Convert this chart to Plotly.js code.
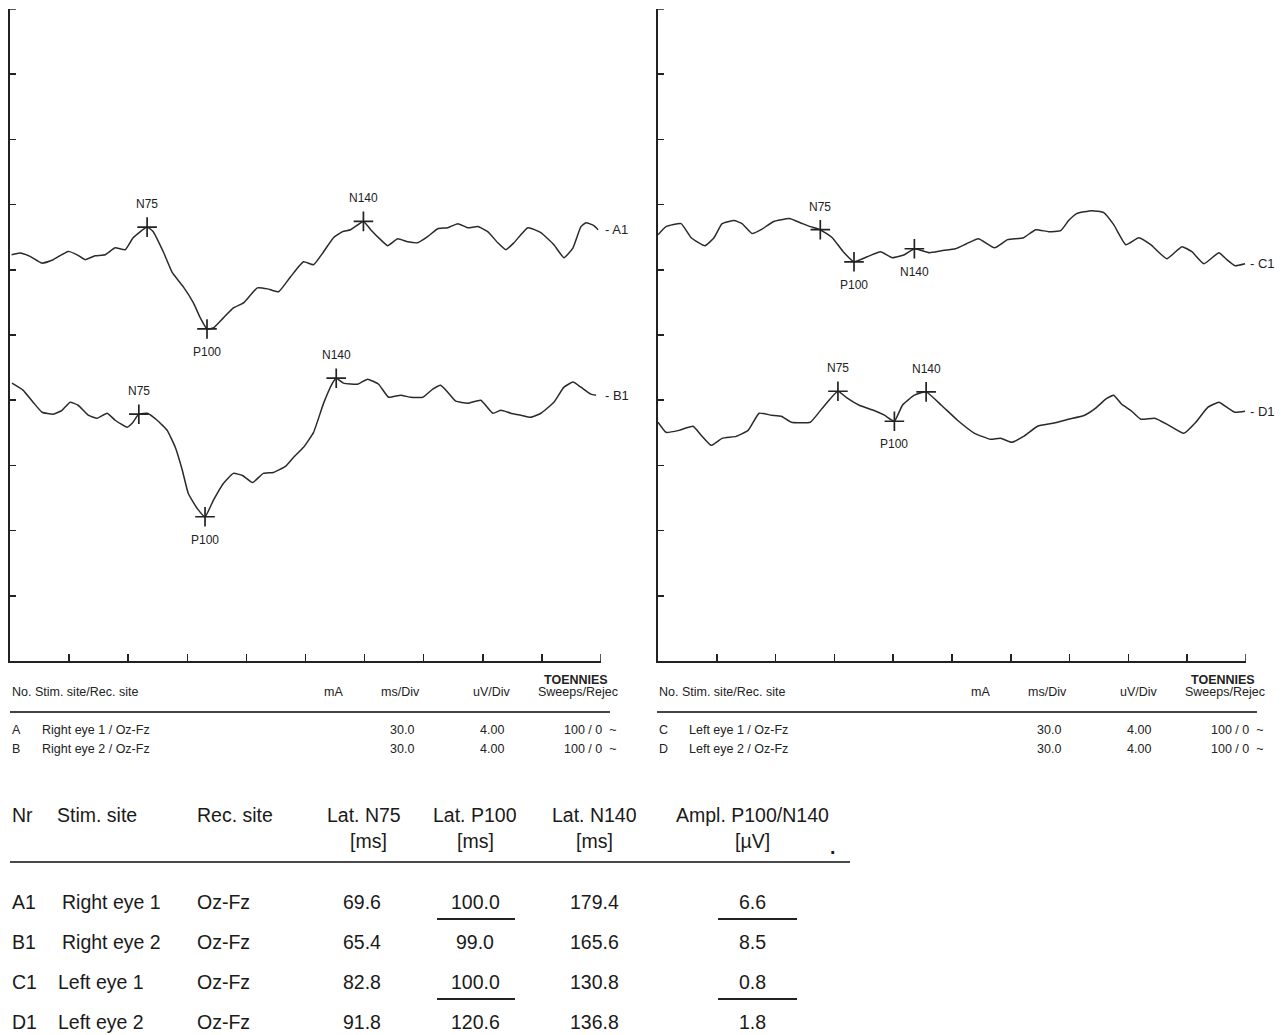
<!DOCTYPE html>
<html>
<head>
<meta charset="utf-8">
<script src="https://cdn.plot.ly/plotly-3.0.1.min.js"></script>
<style>
html,body{margin:0;padding:0;background:#fff;}
#chart{width:1287px;height:1035px;}
</style>
</head>
<body>
<div id="chart"></div>
<script>
// ---------------- DATA ----------------
// Time in ms (30 ms/Div, 10 divisions), amplitude in µV on the display scale (4 µV/Div, 10 divisions)
const tA1 = [0.8,5.1,10.2,16.1,21.9,29.5,34.1,38.1,43.2,48.3,53.4,58.5,62.5,69.6,72.7,77.8,82.4,88.0,93.1,96.6,100.0,103.2,108.3,113.4,118.5,125.6,130.7,136.3,142.4,149.0,154.1,159.2,164.2,168.8,172.9,179.4,183.1,188.1,191.7,196.8,201.9,206.9,212.0,217.1,222.2,227.3,232.4,237.5,242.5,247.6,251.7,255.8,262.9,269.5,276.1,281.2,285.8,289.8,292.4,296.4,298.5];
const vA1 = [24.92,25.03,24.82,24.41,24.62,25.13,24.92,24.62,24.86,24.92,25.35,25.23,25.97,26.62,26.34,25.11,23.82,22.95,21.97,21.05,20.37,20.43,21.05,21.66,21.97,22.89,22.83,22.65,23.57,24.49,24.31,25.11,25.97,26.34,26.46,26.97,26.46,25.85,25.48,25.91,25.72,25.66,26.03,26.52,26.58,26.83,26.58,26.65,26.34,25.66,25.23,25.66,26.58,26.28,25.54,24.74,25.35,26.65,26.89,26.71,26.46];

const tB1 = [1.0,6.6,11.7,16.3,21.9,26.4,30.5,34.6,39.7,44.2,49.3,53.4,59.5,62.0,65.4,69.7,74.7,79.8,83.9,87.5,90.5,95.1,99.0,103.2,108.3,113.4,118.0,123.1,128.6,133.7,139.8,143.9,149.0,154.1,159.2,163.7,165.6,169.3,176.4,181.5,187.1,192.2,198.3,203.4,209.5,214.6,218.6,222.2,226.3,232.4,239.0,245.1,249.2,254.2,259.3,264.4,269.5,276.1,281.2,285.8,289.8,294.9,297.5];
const vB1 = [17.05,16.62,15.88,15.26,15.14,15.38,15.88,15.69,15.08,14.89,15.20,14.77,14.34,14.58,15.14,15.20,14.77,14.15,13.11,11.69,10.28,9.35,8.85,9.85,10.89,11.51,11.38,10.95,11.51,11.57,11.94,12.49,13.11,14.03,15.82,17.05,17.35,17.05,16.98,17.29,16.98,16.18,16.31,16.18,16.18,16.68,16.92,16.49,15.94,15.82,16.00,15.20,15.38,15.20,15.08,14.95,15.20,15.88,16.80,17.11,16.80,16.37,16.31];

const tC1 = [0.0,4.1,11.8,16.9,24.0,28.6,32.7,38.8,42.9,48.0,52.6,58.8,67.0,72.6,77.7,82.8,88.9,94.5,100.0,106.8,113.5,119.6,125.7,130.8,138.5,144.6,151.8,157.4,163.5,171.7,178.4,186.5,192.7,199.3,205.5,209.5,213.6,221.3,227.4,232.5,238.7,245.3,251.4,259.6,267.3,272.4,278.5,286.2,290.2,294.4,299.5];
const vC1 = [26.15,26.65,26.83,25.97,25.48,25.97,26.83,27.02,26.83,26.22,26.46,26.95,27.14,26.89,26.65,26.46,25.97,25.11,24.49,24.80,25.11,24.74,24.92,25.29,25.05,25.17,25.29,25.60,25.91,25.35,25.85,25.97,26.46,26.34,26.40,27.02,27.45,27.63,27.51,26.77,25.54,25.97,25.54,24.68,25.42,25.11,24.37,25.05,24.62,24.25,24.37];

const tD1 = [0.0,4.1,10.7,17.9,22.0,27.1,32.7,39.9,46.0,51.6,57.8,62.9,68.0,77.7,83.8,91.8,96.6,102.7,109.9,115.5,120.6,124.7,130.8,136.8,144.6,152.8,161.5,169.7,174.8,180.4,186.5,193.7,201.4,209.5,217.7,223.3,228.4,232.5,236.6,241.2,246.3,253.5,260.6,268.3,274.4,280.6,286.2,290.2,294.4,299.5];
const vD1 = [14.65,14.03,14.15,14.40,13.85,13.23,13.66,13.78,14.15,15.20,15.08,15.02,14.65,14.65,15.51,16.55,16.12,15.69,15.38,15.08,14.71,15.69,16.31,16.51,15.69,14.77,13.97,13.60,13.66,13.42,13.78,14.40,14.58,14.83,15.08,15.51,16.06,16.31,15.75,15.38,14.83,14.89,14.46,13.97,14.65,15.57,15.88,15.57,15.26,15.32];

// Peaks (latencies in ms from the results table)
const peakNames = ['N75','P100','N140'];
const peakLatA1 = [69.6,100.0,179.4], peakAmpA1 = [26.62,20.37,26.97];
const peakLatB1 = [65.4,99.0,165.6],  peakAmpB1 = [15.14,8.85,17.35];
const peakLatC1 = [82.8,100.0,130.8], peakAmpC1 = [26.46,24.49,25.29];
const peakLatD1 = [91.8,120.6,136.8], peakAmpD1 = [16.55,14.71,16.51];
const labelSideA1 = ['top','bottom','top'];
const labelSideB1 = ['top','bottom','top'];
const labelSideC1 = ['top','bottom','bottom'];
const labelSideD1 = ['top','bottom','top'];

const traceNames = ['A1','B1','C1','D1'];

// Recording settings
const setNoL = ['A','B'], setSiteL = ['Right eye 1 / Oz-Fz','Right eye 2 / Oz-Fz'];
const setNoR = ['C','D'], setSiteR = ['Left eye 1 / Oz-Fz','Left eye 2 / Oz-Fz'];
const msDiv = [30.0,30.0], uvDiv = [4.00,4.00], sweeps = ['100 / 0  ~','100 / 0  ~'];

// Results table
const tblNr = ['A1','B1','C1','D1'];
const tblStim = ['Right eye 1','Right eye 2','Left eye 1','Left eye 2'];
const tblRec = ['Oz-Fz','Oz-Fz','Oz-Fz','Oz-Fz'];
const latN75 = [69.6,65.4,82.8,91.8];
const latP100 = [100.0,99.0,100.0,120.6];
const latN140 = [179.4,165.6,130.8,136.8];
const amplP100N140 = [6.6,8.5,0.8,1.8];

// ---------------- LAYOUT HELPERS ----------------
const W = 1287, H = 1035;
const px = x => x / W;
const py = y => 1 - y / H;
const INK = '#222222';
const FONT = 'Liberation Sans, Arial, sans-serif';
const X_MAX = 300, Y_MAX = 40;

const traces = [];
const ann = [];
const shapes = [];

function addSeries(t, v, xa, ya, lat, amp, sides) {
  traces.push({x: t, y: v, xaxis: xa, yaxis: ya, type: 'scatter', mode: 'lines',
    line: {color: '#2a2a2a', width: 1.5, shape: 'spline', smoothing: 0.4}, hoverinfo: 'skip', showlegend: false});
  traces.push({x: lat, y: amp, xaxis: xa, yaxis: ya, type: 'scatter', mode: 'markers',
    marker: {symbol: 'cross-thin', size: 14, line: {color: INK, width: 1.7}},
    hoverinfo: 'skip', showlegend: false, cliponaxis: false});
  lat.forEach((l, i) => {
    ann.push({xref: xa, yref: ya, x: l, y: amp[i], text: peakNames[i], showarrow: false,
      xanchor: 'center', yanchor: 'middle', yshift: sides[i] === 'top' ? 23 : -23,
      font: {family: FONT, size: 12, color: INK}});
  });
}
addSeries(tA1, vA1, 'x', 'y', peakLatA1, peakAmpA1, labelSideA1);
addSeries(tB1, vB1, 'x', 'y', peakLatB1, peakAmpB1, labelSideB1);
addSeries(tC1, vC1, 'x2', 'y2', peakLatC1, peakAmpC1, labelSideC1);
addSeries(tD1, vD1, 'x2', 'y2', peakLatD1, peakAmpD1, labelSideD1);

function xAx(d0, d1, anchor) {
  return {domain: [d0, d1], anchor: anchor, range: [0, X_MAX], tick0: 0, dtick: 30,
    showgrid: false, zeroline: false, showline: true, linecolor: INK, linewidth: 1.6,
    ticks: 'inside', ticklen: 7, tickwidth: 1.5, tickcolor: INK, showticklabels: false, fixedrange: true};
}
function yAx(anchor) {
  return {domain: [py(661), py(9)], anchor: anchor, range: [0, Y_MAX], tick0: 0, dtick: 4,
    showgrid: false, zeroline: false, showline: true, linecolor: INK, linewidth: 1.6,
    ticks: 'inside', ticklen: 6, tickwidth: 1.5, tickcolor: INK, showticklabels: false, fixedrange: true};
}
// end-of-axis ticks (top of the amplitude axis, end of the time axis)
[['x', 'y'], ['x2', 'y2']].forEach(([xa, ya]) => {
  shapes.push({type: 'line', xref: xa, yref: ya, xsizemode: 'pixel', xanchor: 0, x0: 0, x1: 6,
    y0: Y_MAX, y1: Y_MAX, line: {color: INK, width: 1.5}});
  shapes.push({type: 'line', xref: xa, yref: ya, ysizemode: 'pixel', yanchor: 0, y0: 0, y1: 7,
    x0: X_MAX, x1: X_MAX, line: {color: INK, width: 1.5}});
});

function txt(x, y, s, opts = {}) {
  ann.push(Object.assign({xref: 'paper', yref: 'paper', x: px(x), y: py(y), text: s, showarrow: false,
    xanchor: 'left', yanchor: 'middle', font: {family: FONT, size: 13, color: INK}}, opts));
}
function hline(x0, x1, y, w, c) {
  shapes.push({type: 'line', xref: 'paper', yref: 'paper', x0: px(x0), x1: px(x1), y0: py(y), y1: py(y),
    line: {color: c || INK, width: w || 1.5}});
}

// series end labels
[[vA1, 'x', 'y'], [vB1, 'x', 'y'], [vC1, 'x2', 'y2'], [vD1, 'x2', 'y2']].forEach((s, i) => {
  ann.push({xref: s[1], yref: s[2], x: X_MAX, y: s[0][s[0].length - 1], text: '- ' + traceNames[i],
    showarrow: false, xanchor: 'left', yanchor: 'middle', xshift: 2,
    font: {family: FONT, size: 13, color: INK}});
});

// settings blocks under each panel
function settingsBlock(ox, nos, sites) {
  const f = {family: FONT, size: 12.5, color: INK};
  txt(ox + 0, 692, 'No. Stim. site/Rec. site', {font: f});
  txt(ox + 323, 692, 'mA', {xanchor: 'center', font: f});
  txt(ox + 390, 692, 'ms/Div', {xanchor: 'center', font: f});
  txt(ox + 482, 692, 'uV/Div', {xanchor: 'center', font: f});
  txt(ox + 566, 680, '<b>TOENNIES</b>', {xanchor: 'center', font: f});
  txt(ox + 568, 692, 'Sweeps/Rejec', {xanchor: 'center', font: f});
  hline(ox + 0, ox + 600, 712, 1.8, '#444');
  nos.forEach((n, i) => {
    const y = 730 + i * 19;
    txt(ox + 0, y, n, {font: f});
    txt(ox + 30, y, sites[i], {font: f});
    txt(ox + 392, y, msDiv[i].toFixed(1), {xanchor: 'center', font: f});
    txt(ox + 482, y, uvDiv[i].toFixed(2), {xanchor: 'center', font: f});
    txt(ox + 552, y, sweeps[i], {font: f});
  });
}
settingsBlock(10, setNoL, setSiteL);
settingsBlock(657, setNoR, setSiteR);

// results table
const TF = {family: FONT, size: 19.5, color: '#1a1a1a'};
txt(10, 815, 'Nr', {font: TF});
txt(55, 815, 'Stim. site', {font: TF});
txt(195, 815, 'Rec. site', {font: TF});
const colX = [364, 475, 594, 752];
const colHead = ['Lat. N75', 'Lat. P100', 'Lat. N140', 'Ampl. P100/N140'];
const colUnit = ['[ms]', '[ms]', '[ms]', '[µV]'];
colX.forEach((x, i) => {
  txt(x, 815, colHead[i], {xanchor: 'center', font: TF});
  txt(x + (i === 0 ? 4 : 0), 841, colUnit[i], {xanchor: 'center', font: TF});
});
txt(832, 847, '<b>.</b>', {xanchor: 'center', font: TF});
hline(10, 850, 862, 2.2, '#4a4a4a');
const cols = [latN75, latP100, latN140, amplP100N140];
tblNr.forEach((n, i) => {
  const y = 902 + i * 40;
  txt(10, y, n, {font: TF});
  txt(i < 2 ? 60 : 56, y, tblStim[i], {font: TF});
  txt(195, y, tblRec[i], {font: TF});
  cols.forEach((c, j) => txt(colX[j] - (j === 0 ? 2 : 0), y, c[i].toFixed(1), {xanchor: 'center', font: TF}));
});
// underlines (as in the original print)
[919, 999].forEach(y => {
  hline(437, 515, y, 2.2, '#222');
  hline(718, 797, y, 2.2, '#222');
});

const layout = {
  width: W, height: H, margin: {l: 0, r: 0, t: 0, b: 0},
  paper_bgcolor: '#ffffff', plot_bgcolor: 'rgba(0,0,0,0)',
  showlegend: false,
  xaxis: xAx(px(10), px(601), 'y'),
  yaxis: yAx('x'),
  xaxis2: xAx(px(658), px(1246), 'y2'),
  yaxis2: yAx('x2'),
  annotations: ann, shapes: shapes,
  font: {family: FONT, color: INK}
};

Plotly.newPlot('chart', traces, layout, {displayModeBar: false, staticPlot: true});
</script>
</body>
</html>
